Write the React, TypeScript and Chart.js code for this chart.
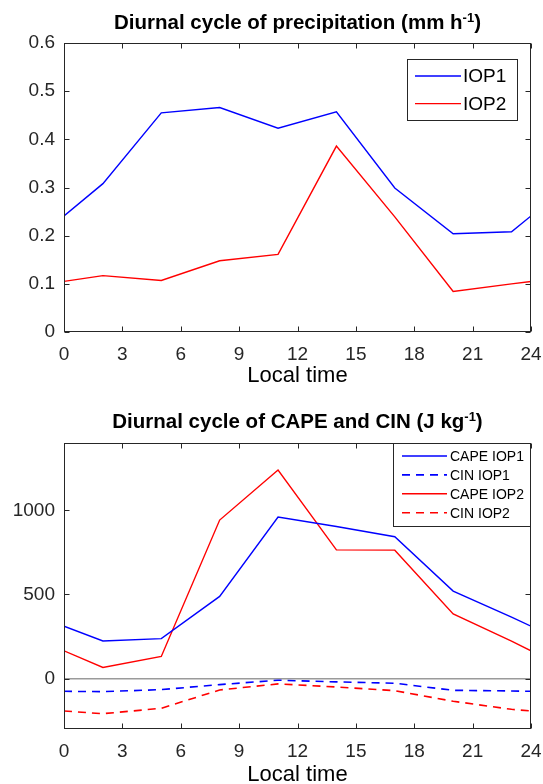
import React, { useEffect, useRef } from 'react';
import { Chart, registerables } from 'chart.js';

Chart.register(...registerables);

const FONT = "'Liberation Sans', Arial, Helvetica, sans-serif";
Chart.defaults.font.family = FONT;

// ---- data ----
const HOURS = [0, 2, 5, 8, 11, 14, 17, 20, 23, 24];
const PRECIP_IOP1 = [0.241, 0.308, 0.455, 0.466, 0.423, 0.457, 0.299, 0.204, 0.208, 0.241];
const PRECIP_IOP2 = [0.105, 0.117, 0.107, 0.148, 0.161, 0.386, 0.239, 0.084, 0.1, 0.105];
const CAPE_IOP1 = [311, 223, 237, 488, 960, 904, 843, 520, 365, 311];
const CIN_IOP1 = [-76, -78, -66, -36, -10, -20, -28, -70, -74, -76];
const CAPE_IOP2 = [165, 66, 131, 942, 1239, 765, 763, 384, 222, 165];
const CIN_IOP2 = [-193, -209, -177, -68, -32, -50, -72, -135, -183, -193];

const X_TICKS = [0, 3, 6, 9, 12, 15, 18, 21, 24];
const PRECIP_TICKS = [0, 0.1, 0.2, 0.3, 0.4, 0.5, 0.6];
const ENERGY_TICKS = [0, 500, 1000];

const toXY = (vals: number[]) => HOURS.map((h, i) => ({ x: h, y: vals[i] }));

const BLUE = '#0000ff';
const RED = '#ff0000';
const AXIS = '#262626';

// ---- plugins ----
const matlabAxes = {
  id: 'matlabAxes',
  afterDatasetsDraw(chart: any) {
    const { ctx, chartArea: a, scales } = chart;
    const L = Math.round(a.left) + 0.5;
    const R = Math.round(a.right) - 0.5;
    const T = Math.round(a.top) + 0.5;
    const B = Math.round(a.bottom) - 0.5;
    ctx.save();
    ctx.strokeStyle = AXIS;
    ctx.lineWidth = 1;
    ctx.setLineDash([]);
    ctx.strokeRect(L, T, R - L, B - T);
    ctx.beginPath();
    const tl = 5;
    scales.x.ticks.forEach((t: any) => {
      const px = Math.round(scales.x.getPixelForValue(t.value)) + 0.5;
      ctx.moveTo(px, B);
      ctx.lineTo(px, B - tl);
      ctx.moveTo(px, T);
      ctx.lineTo(px, T + tl);
    });
    scales.y.ticks.forEach((t: any) => {
      const py = Math.round(scales.y.getPixelForValue(t.value)) + 0.5;
      ctx.moveTo(L, py);
      ctx.lineTo(L + tl, py);
      ctx.moveTo(R, py);
      ctx.lineTo(R - tl, py);
    });
    ctx.stroke();
    ctx.restore();
  },
};

const boxLegend = {
  id: 'boxLegend',
  afterDatasetsDraw(chart: any, _args: any, o: any) {
    const ctx = chart.ctx;
    ctx.save();
    ctx.fillStyle = '#ffffff';
    ctx.fillRect(o.x, o.y, o.w, o.h);
    ctx.strokeStyle = AXIS;
    ctx.lineWidth = 1;
    ctx.strokeRect(o.x + 0.5, o.y + 0.5, o.w - 1, o.h - 1);
    chart.data.datasets.forEach((ds: any, i: number) => {
      const cy = o.rowY + i * o.rowH;
      ctx.strokeStyle = ds.borderColor;
      ctx.lineWidth = ds.borderWidth;
      ctx.setLineDash(ds.borderDash || []);
      ctx.beginPath();
      ctx.moveTo(o.lineX0, cy);
      ctx.lineTo(o.lineX1, cy);
      ctx.stroke();
      ctx.setLineDash([]);
      ctx.fillStyle = '#000000';
      ctx.font = `${o.fontSize}px ${FONT}`;
      ctx.textBaseline = 'middle';
      ctx.textAlign = 'left';
      ctx.fillText(ds.label, o.textX, cy + 1);
    });
    ctx.restore();
  },
};

const supTitle = {
  id: 'supTitle',
  afterDraw(chart: any, _args: any, o: any) {
    const ctx = chart.ctx;
    const a = chart.chartArea;
    ctx.save();
    ctx.fillStyle = '#000000';
    ctx.textBaseline = 'alphabetic';
    ctx.textAlign = 'left';
    const big = `bold ${o.size}px ${FONT}`;
    const small = `bold ${o.supSize}px ${FONT}`;
    ctx.font = big;
    const w1 = ctx.measureText(o.main).width;
    const w3 = ctx.measureText(o.end).width;
    ctx.font = small;
    const w2 = ctx.measureText(o.sup).width;
    const cx = (a.left + a.right) / 2;
    let x = cx - (w1 + w2 + w3) / 2;
    ctx.font = big;
    ctx.fillText(o.main, x, o.baseline);
    x += w1;
    ctx.font = small;
    ctx.fillText(o.sup, x, o.baseline - o.raise);
    x += w2;
    ctx.font = big;
    ctx.fillText(o.end, x, o.baseline);
    ctx.restore();
  },
};

// ---- config builders ----
function baseOptions(H: number, plotBottom: number, yMin: number, yMax: number, yTicks: number[], titlePadBottom: number, zeroLine: boolean) {
  return {
    responsive: false,
    animation: false,
    devicePixelRatio: 1,
    layout: { padding: { top: 43, right: 12, left: 0, bottom: 0 } },
    plugins: {
      legend: { display: false },
      title: { display: false },
      tooltip: { enabled: false },
    },
    elements: { point: { radius: 0 }, line: { tension: 0 } },
    scales: {
      x: {
        type: 'linear',
        min: 0,
        max: 24,
        afterBuildTicks: (s: any) => { s.ticks = X_TICKS.map((v) => ({ value: v })); },
        afterFit: (s: any) => {
          s.height = H - plotBottom;
          s.paddingLeft = 0;
          s.paddingRight = 0;
        },
        grid: { display: false, drawTicks: false },
        border: { display: false },
        ticks: {
          padding: 11,
          color: AXIS,
          font: { size: 19 },
          maxRotation: 0,
          callback: (v: any) => String(v),
        },
        title: {
          display: true,
          text: 'Local time',
          color: '#000000',
          font: { size: 22 },
          padding: { top: 0, bottom: titlePadBottom },
        },
      },
      y: {
        type: 'linear',
        min: yMin,
        max: yMax,
        afterBuildTicks: (s: any) => { s.ticks = yTicks.map((v) => ({ value: v })); },
        afterFit: (s: any) => {
          s.width = 64;
          s.paddingTop = 0;
          s.paddingBottom = 0;
        },
        grid: {
          display: zeroLine,
          drawTicks: false,
          lineWidth: 1.5,
          color: (c: any) => (c.tick && c.tick.value === 0 ? '#9a9a9a' : 'rgba(0,0,0,0)'),
        },
        border: { display: false },
        ticks: {
          padding: 9,
          color: AXIS,
          font: { size: 19 },
          callback: (v: any) => String(v),
        },
      },
    },
  };
}

function precipConfig(): any {
  const H = 400;
  const opts: any = baseOptions(H, 332, 0, 0.6, PRECIP_TICKS, 11, false);
  opts.plugins.boxLegend = { x: 407, y: 59, w: 111, h: 62, rowY: 76, rowH: 27.6, lineX0: 415, lineX1: 461, textX: 463, fontSize: 19 };
  opts.plugins.supTitle = { main: 'Diurnal cycle of precipitation (mm h', sup: '-1', end: ')', size: 20.5, supSize: 13, baseline: 29, raise: 7 };
  return {
    type: 'line',
    data: {
      datasets: [
        { label: 'IOP1', data: toXY(PRECIP_IOP1), borderColor: BLUE, borderWidth: 1.4, fill: false },
        { label: 'IOP2', data: toXY(PRECIP_IOP2), borderColor: RED, borderWidth: 1.4, fill: false },
      ],
    },
    options: opts,
    plugins: [matlabAxes, boxLegend, supTitle],
  };
}

function energyConfig(): any {
  const H = 420;
  const opts: any = baseOptions(H, 329, -300, 1400, ENERGY_TICKS, 32, true);
  opts.plugins.boxLegend = { x: 393, y: 43, w: 138, h: 84, rowY: 56, rowH: 18.9, lineX0: 402, lineX1: 447, textX: 450, fontSize: 14 };
  opts.plugins.supTitle = { main: 'Diurnal cycle of CAPE and CIN (J kg', sup: '-1', end: ')', size: 20.5, supSize: 13, baseline: 28, raise: 7 };
  return {
    type: 'line',
    data: {
      datasets: [
        { label: 'CAPE IOP1', data: toXY(CAPE_IOP1), borderColor: BLUE, borderWidth: 1.4, fill: false },
        { label: 'CIN IOP1', data: toXY(CIN_IOP1), borderColor: BLUE, borderWidth: 1.6, borderDash: [8, 6], fill: false },
        { label: 'CAPE IOP2', data: toXY(CAPE_IOP2), borderColor: RED, borderWidth: 1.4, fill: false },
        { label: 'CIN IOP2', data: toXY(CIN_IOP2), borderColor: RED, borderWidth: 1.6, borderDash: [8, 6], fill: false },
      ],
    },
    options: opts,
    plugins: [matlabAxes, boxLegend, supTitle],
  };
}

function ChartCanvas({ makeConfig, top, height }: { makeConfig: () => any; top: number; height: number }) {
  const ref = useRef<HTMLCanvasElement | null>(null);
  useEffect(() => {
    if (!ref.current) return;
    const chart = new Chart(ref.current, makeConfig());
    return () => chart.destroy();
  }, [makeConfig]);
  return (
    <canvas
      ref={ref}
      width={543}
      height={height}
      style={{ position: 'absolute', left: 0, top, width: 543, height, display: 'block' }}
    />
  );
}

export default function App() {
  return (
    <div
      style={{
        position: 'absolute',
        left: 0,
        top: 0,
        width: 543,
        height: 784,
        overflow: 'hidden',
        background: '#ffffff',
      }}
    >
      <ChartCanvas makeConfig={precipConfig} top={0} height={400} />
      <ChartCanvas makeConfig={energyConfig} top={400} height={420} />
    </div>
  );
}
